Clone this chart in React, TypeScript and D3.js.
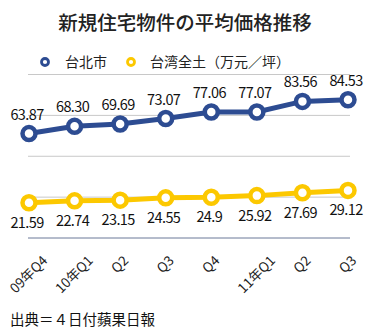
import React from "react";
import * as d3 from "d3";

const categories = ["09年Q4", "10年Q1", "Q2", "Q3", "Q4", "11年Q1", "Q2", "Q3"];
const taipei = [63.87, 68.3, 69.69, 73.07, 77.06, 77.07, 83.56, 84.53];
const taipeiLabels = ["63.87", "68.30", "69.69", "73.07", "77.06", "77.07", "83.56", "84.53"];
const taiwan = [21.59, 22.74, 23.15, 24.55, 24.9, 25.92, 27.69, 29.12];
const taiwanLabels = ["21.59", "22.74", "23.15", "24.55", "24.9", "25.92", "27.69", "29.12"];
const gridTicks = [25, 50, 75, 100];

const BLUE = "#2d4c92";
const YELLOW = "#fcc800";
const FONT = "'Noto Sans CJK JP', 'Noto Sans', sans-serif";
const XFONT_SIZE = 13.5;

function measure(text: string, size: number): number {
  try {
    const ctx = document.createElement("canvas").getContext("2d");
    if (ctx) {
      ctx.font = `${size}px 'Noto Sans CJK JP', 'Noto Sans', sans-serif`;
      return ctx.measureText(text).width;
    }
  } catch (e) {
    /* ignore */
  }
  return text.length * size * 0.65;
}

export default function App() {
  const x = d3.scalePoint<number>().domain(d3.range(categories.length)).range([29, 348]);
  const y = d3.scaleLinear().domain([0, 100]).range([238, 74.5]);
  const line = d3
    .line<number>()
    .x((_, i) => x(i) as number)
    .y((d) => y(d));
  const k = Math.SQRT1_2;

  return (
    <svg
      width={380}
      height={335}
      style={{ position: "absolute", left: 0, top: 0, background: "#fff" }}
      fontFamily={FONT}
    >
      <text x={185} y={30} textAnchor="middle" fontSize={19.5} fontWeight={500} fill="#222">
        新規住宅物件の平均価格推移
      </text>

      {/* legend */}
      <circle cx={45} cy={62} r={3.5} fill="#fff" stroke={BLUE} strokeWidth={2.8} />
      <text x={65} y={67} fontSize={14} fill="#222">台北市</text>
      <circle cx={131} cy={62} r={3.5} fill="#fff" stroke={YELLOW} strokeWidth={2.8} />
      <text x={150} y={67} fontSize={14} fill="#222">台湾全土（万元／坪）</text>

      {/* grid */}
      {gridTicks.map((t) => (
        <line key={t} x1={28} x2={350} y1={y(t)} y2={y(t)} stroke="#c8c8c8" strokeWidth={1} />
      ))}
      <line x1={28} x2={350} y1={y(0)} y2={y(0)} stroke="#6a7898" strokeWidth={1} />

      {/* series */}
      {[
        { data: taipei, labels: taipeiLabels, color: BLUE, above: true },
        { data: taiwan, labels: taiwanLabels, color: YELLOW, above: false },
      ].map((s, si) => (
        <g key={si}>
          <path d={line(s.data) || ""} fill="none" stroke={s.color} strokeWidth={5} />
          {s.data.map((v, i) => (
            <circle key={i} cx={x(i)} cy={y(v)} r={6.5} fill="#fff" stroke={s.color} strokeWidth={4.5} />
          ))}
          {s.data.map((v, i) => (
            <text
              key={"l" + i}
              x={(x(i) as number) - 2}
              y={s.above ? y(v) - 14 : y(v) + 25}
              textAnchor="middle"
              fontSize={14.5}
              letterSpacing={-0.6}
              fill="#111"
            >
              {s.labels[i]}
            </text>
          ))}
        </g>
      ))}

      {/* x labels: rotated -45°, centered on the tick, tops aligned */}
      {categories.map((c, i) => {
        const L = measure(c, XFONT_SIZE);
        const cx = (x(i) as number) + 3;
        const cy = 255 + (L + 10) * k * 0.5 + 3;
        return (
          <g key={c + i} transform={`translate(${cx},${cy}) rotate(-45)`}>
            <text x={0} y={0} textAnchor="middle" fontSize={XFONT_SIZE} fill="#222">
              {c}
            </text>
          </g>
        );
      })}

      <text x={10} y={325} fontSize={14.5} fill="#111">出典＝４日付蘋果日報</text>
    </svg>
  );
}
